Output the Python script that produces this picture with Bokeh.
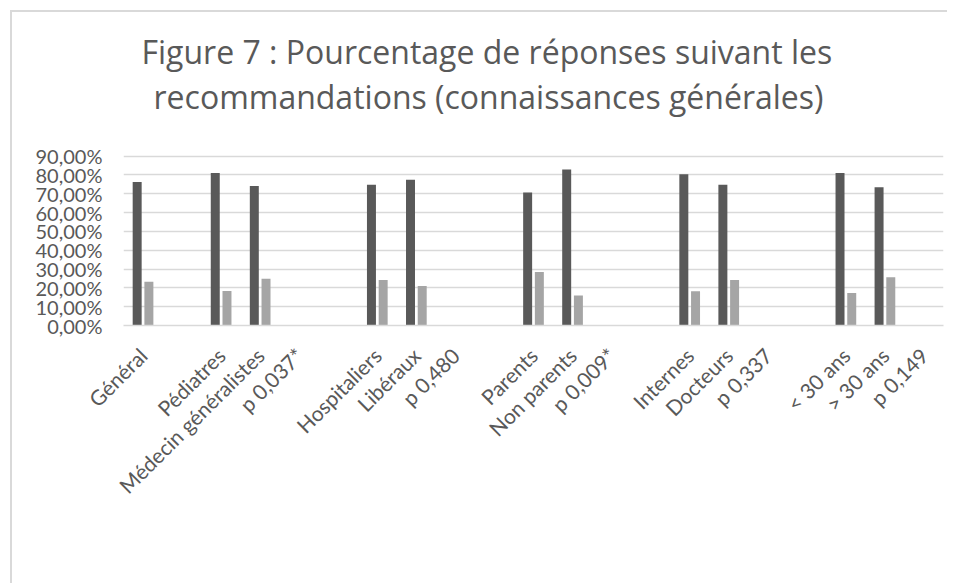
from math import pi
from bokeh.plotting import figure
from bokeh.models import (FactorRange, Range1d, CustomJSTickFormatter, Legend,
                          LegendItem, Title, FixedTicker, ColumnDataSource)
from bokeh.transform import dodge
from bokeh.embed import file_html
from bokeh.resources import INLINE

# ---- data ----
axis_labels = ["Général", " ", "Pédiatres", "Médecin généralistes", "p 0,037*", "  ",
               "Hospitaliers", "Libéraux", "p 0,480", "   ",
               "Parents", "Non parents", "p 0,009*", "    ",
               "Internes", "Docteurs", "p 0,337", "     ",
               "< 30 ans", "> 30 ans", "p 0,149"]
groups = ["Général", "Pédiatres", "Médecin généralistes", "Hospitaliers", "Libéraux",
          "Parents", "Non parents", "Internes", "Docteurs", "< 30 ans", "> 30 ans"]
recommande = [76.3, 81.0, 74.1, 74.8, 77.4, 70.7, 82.9, 80.3, 74.8, 81.0, 73.4]
deconseille = [23.3, 18.3, 24.9, 24.2, 21.0, 28.4, 16.0, 18.2, 24.2, 17.3, 25.6]
y_ticks = [0, 10, 20, 30, 40, 50, 60, 70, 80, 90]
series_names = ["Recommandé", "Déconseillé"]
title_lines = ["Figure 7 : Pourcentage de réponses suivant les",
               "recommandations (connaissances générales)"]

FONT = "Lato"
TFONT = "Open Sans"
TXT = "#595959"
DARK = "#595959"
LIGHT = "#a5a5a5"
GRID = "#d9d9d9"
SH = 12  # canvas offset created by the css margin + border

src = ColumnDataSource(dict(cat=groups, rec=recommande, dec=deconseille))

p = figure(x_range=FactorRange(factors=axis_labels, range_padding=0),
           y_range=Range1d(0, 110.5), frame_width=820, frame_height=208, title=None,
           output_backend="svg", toolbar_location=None,
           min_border_left=123 - SH, min_border_right=4, min_border_top=117 - SH,
           min_border_bottom=0, background_fill_color="white",
           border_fill_color="white",
           styles={"margin-left": "10px", "margin-top": "10px",
                   "border-left": "2px solid #d9d9d9",
                   "border-top": "2px solid #d9d9d9"})

r1 = p.vbar(x=dodge("cat", -0.15, range=p.x_range), top="rec", width=0.23,
            source=src, fill_color=DARK, line_color=None)
r2 = p.vbar(x=dodge("cat", 0.15, range=p.x_range), top="dec", width=0.23,
            source=src, fill_color=LIGHT, line_color=None)

p.outline_line_color = None
p.xgrid.grid_line_color = None
p.ygrid.grid_line_color = GRID
p.ygrid.grid_line_width = 1.3

yax = p.yaxis[0]
yax.ticker = FixedTicker(ticks=y_ticks)
yax.formatter = CustomJSTickFormatter(
    code="return tick.toFixed(2).replace('.', ',') + '%';")
yax.axis_line_color = None
yax.major_tick_line_color = None
yax.minor_tick_line_color = None
yax.major_label_standoff = 15
yax.major_label_text_font = FONT
yax.major_label_text_font_size = "20px"
yax.major_label_text_color = TXT

xax = p.xaxis[0]
xax.axis_line_color = GRID
xax.axis_line_width = 1.3
xax.major_tick_line_color = None
xax.minor_tick_line_color = None
xax.major_label_orientation = pi / 4
xax.major_label_standoff = 20
xax.major_label_text_font = FONT
xax.major_label_text_font_size = "21px"
xax.major_label_text_color = TXT

legend = Legend(items=[LegendItem(label=series_names[0], renderers=[r1]),
                       LegendItem(label=series_names[1], renderers=[r2])],
                orientation="horizontal", location="center",
                label_text_font=FONT, label_text_font_size="22.5px",
                label_text_color=TXT, glyph_width=13, glyph_height=13,
                label_standoff=7, spacing=29, border_line_color=None,
                background_fill_alpha=0, padding=4, margin=20)
p.add_layout(legend, "below")

p.add_layout(Title(text=title_lines[1], text_font=TFONT, text_font_size="32px",
                   text_font_style="normal", text_color=TXT, align="left",
                   offset=30, standoff=0), "above")
p.add_layout(Title(text=title_lines[0], text_font=TFONT, text_font_size="32px",
                   text_font_style="normal", text_color=TXT, align="left",
                   offset=18, standoff=0), "above")

open("out.html", "w").write(file_html(p, INLINE))
